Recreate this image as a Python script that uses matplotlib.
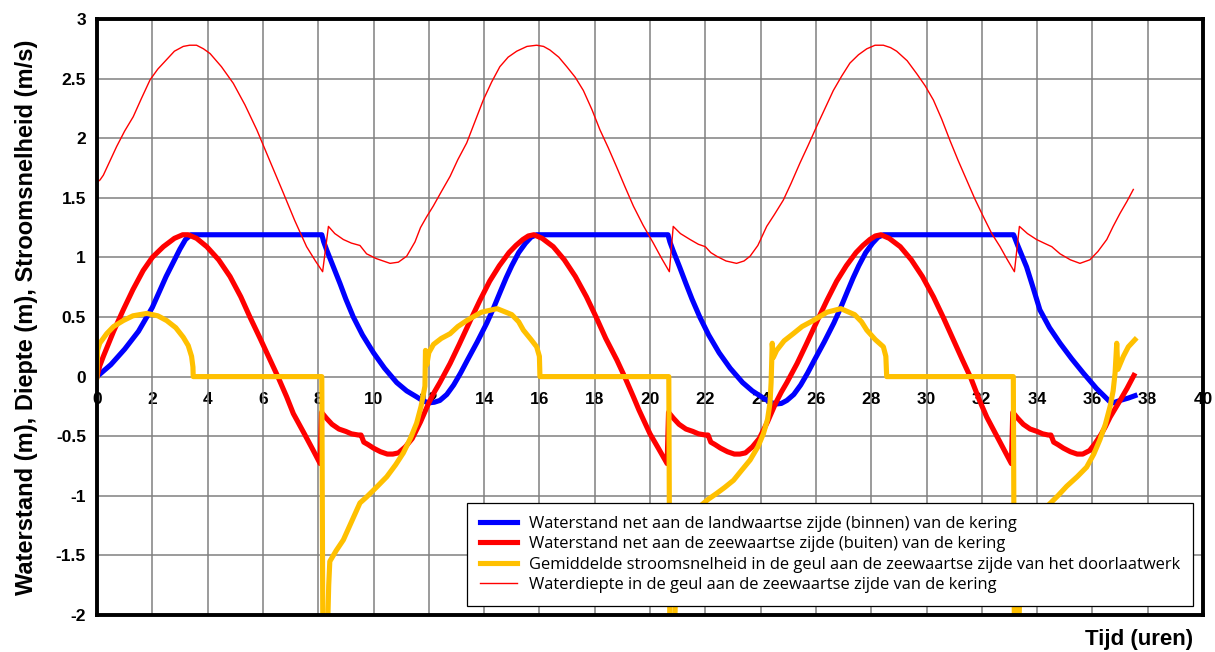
import matplotlib
matplotlib.use("Agg")
import matplotlib.pyplot as plt

# --- Waterstand landwaartse zijde (binnen) ---
t_binnen = [0.0, 0.5, 1.0, 1.5, 2.0, 2.5, 3.0, 3.2, 3.4,
            8.13, 8.2, 8.31, 8.55, 8.79, 9.0, 9.27, 9.6, 10.0, 10.4, 10.84, 11.2,
            11.56, 11.8, 12.0, 12.2, 12.4, 12.65, 12.9, 13.15, 13.4, 13.75, 14.1,
            14.35, 14.6, 14.8, 15.0, 15.25, 15.5, 15.7, 15.9,
            20.65, 20.72, 20.83, 21.07, 21.3, 21.52, 21.8, 22.12, 22.5, 22.9,
            23.35, 23.7, 24.1, 24.35, 24.55, 24.75, 24.95, 25.2, 25.45, 25.7,
            25.95, 26.3, 26.65, 26.9, 27.15, 27.35, 27.55, 27.8, 28.05, 28.25, 28.45,
            33.15, 33.3, 33.62, 33.85, 34.1, 34.45, 34.83, 35.25, 35.67, 36.15,
            36.63, 36.75, 37.0, 37.3, 37.54]
h_binnen = [0.0, 0.10, 0.23, 0.38, 0.58, 0.84, 1.07, 1.15, 1.19,
            1.19, 1.13, 1.06, 0.92, 0.78, 0.65, 0.50, 0.35, 0.20, 0.07, -0.05, -0.12,
            -0.17, -0.205, -0.22, -0.215, -0.20, -0.15, -0.07, 0.03, 0.14, 0.29, 0.45,
            0.58, 0.72, 0.83, 0.93, 1.04, 1.12, 1.17, 1.19,
            1.19, 1.13, 1.06, 0.92, 0.78, 0.65, 0.50, 0.35, 0.20, 0.07,
            -0.05, -0.12, -0.18, -0.215, -0.23, -0.225, -0.20, -0.15, -0.07, 0.03,
            0.14, 0.29, 0.45, 0.58, 0.72, 0.83, 0.93, 1.04, 1.12, 1.17, 1.19,
            1.19, 1.10, 0.92, 0.75, 0.56, 0.41, 0.28, 0.15, 0.03, -0.10,
            -0.21, -0.22, -0.20, -0.18, -0.16]

# --- Waterstand zeewaartse zijde (buiten) ---
t_buiten = [0.0, 0.1, 0.23, 0.6, 0.95, 1.3, 1.67, 2.0, 2.4, 2.8, 3.1, 3.3, 3.6,
            3.97, 4.4, 4.81, 5.2, 5.53, 5.9, 6.26, 6.56, 6.86, 7.1, 7.5, 7.8, 8.07,
            8.12, 8.3, 8.5, 8.75, 9.0, 9.2, 9.45, 9.55, 9.65, 9.8, 10.0, 10.25,
            10.5, 10.7, 10.9, 11.15, 11.4, 11.55, 11.7, 11.85, 12.0,
            12.2, 12.4, 12.77, 13.1, 13.5, 13.85, 14.2, 14.55, 14.9, 15.15, 15.4,
            15.6, 15.8, 16.1, 16.5, 16.9, 17.3, 17.7, 18.05, 18.4, 18.8, 19.1,
            19.4, 19.6, 20.0, 20.3, 20.62,
            20.67, 20.85, 21.05, 21.3, 21.55, 21.75, 22.0, 22.1, 22.2, 22.35, 22.55,
            22.8, 23.05, 23.25, 23.45, 23.7, 23.95, 24.1, 24.25, 24.4, 24.55,
            24.75, 24.95, 25.32, 25.65, 26.05, 26.4, 26.75, 27.1, 27.45, 27.7,
            27.95, 28.15, 28.35, 28.65, 29.05, 29.45, 29.85, 30.25, 30.6, 30.95,
            31.3, 31.6, 31.9, 32.18, 32.5, 32.8, 33.07,
            33.12, 33.3, 33.5, 33.75, 34.0, 34.2, 34.4, 34.5, 34.6, 34.75, 34.95,
            35.2, 35.45, 35.65, 35.9, 36.1, 36.3, 36.47, 36.64, 36.82, 37.0,
            37.25, 37.5]
h_buiten = [0.0, 0.09, 0.17, 0.38, 0.56, 0.73, 0.89, 1.00, 1.09, 1.16, 1.19, 1.19, 1.16,
            1.09, 0.98, 0.84, 0.67, 0.50, 0.32, 0.14, -0.01, -0.17, -0.31, -0.48, -0.61, -0.73,
            -0.30, -0.35, -0.40, -0.44, -0.46, -0.48, -0.49, -0.49, -0.55, -0.57, -0.60, -0.63,
            -0.65, -0.65, -0.64, -0.59, -0.52, -0.45, -0.38, -0.30, -0.22,
            -0.13, -0.05, 0.11, 0.27, 0.47, 0.64, 0.80, 0.93, 1.04, 1.10, 1.15,
            1.18, 1.19, 1.16, 1.09, 0.98, 0.84, 0.67, 0.50, 0.32, 0.14, -0.01,
            -0.17, -0.28, -0.48, -0.60, -0.73,
            -0.30, -0.35, -0.40, -0.44, -0.46, -0.48, -0.49, -0.49, -0.55, -0.57, -0.60,
            -0.63, -0.65, -0.65, -0.64, -0.59, -0.52, -0.45, -0.38, -0.30, -0.22,
            -0.13, -0.05, 0.11, 0.27, 0.47, 0.64, 0.80, 0.93, 1.04, 1.10,
            1.15, 1.18, 1.19, 1.16, 1.09, 0.98, 0.84, 0.67, 0.50, 0.32,
            0.14, -0.01, -0.19, -0.34, -0.48, -0.61, -0.73,
            -0.30, -0.35, -0.40, -0.44, -0.46, -0.48, -0.49, -0.49, -0.55, -0.57, -0.60,
            -0.63, -0.65, -0.65, -0.62, -0.56, -0.49, -0.42, -0.34, -0.27, -0.20,
            -0.10, 0.01]

# --- Gemiddelde stroomsnelheid in de geul ---
t_snelheid = [0.0, 0.02, 0.1, 0.35, 0.6, 0.95, 1.3, 1.8, 2.2, 2.52, 2.85, 3.12, 3.3,
              3.42, 3.47, 3.48, 8.13,
              8.17, 8.32, 8.38, 8.42, 8.65, 8.91, 9.2, 9.51, 9.75, 10.1, 10.48, 10.8,
              11.08, 11.35, 11.56, 11.72, 11.86, 11.88, 11.93, 12.0, 12.17, 12.45,
              12.77, 13.05, 13.37, 13.9, 14.47, 15.0, 15.25, 15.42, 15.7, 15.9, 16.0,
              16.02, 20.68,
              20.72, 20.87, 20.93, 20.97, 21.4, 21.85, 22.1, 22.41, 22.7, 23.02, 23.3,
              23.62, 23.9, 24.1, 24.25, 24.34, 24.38, 24.4, 24.42, 24.46, 24.58,
              24.85, 25.18, 25.5, 25.9, 26.4, 26.9, 27.4, 27.65, 27.84, 28.15, 28.44,
              28.53, 28.56, 33.14,
              33.18, 33.32, 33.38, 33.45, 33.9, 34.4, 34.75, 35.07, 35.45, 35.79,
              36.05, 36.27, 36.47, 36.64, 36.75, 36.82, 36.88, 36.92, 37.12, 37.3,
              37.54]
v_snelheid = [0.0, 0.22, 0.28, 0.36, 0.42, 0.47, 0.51, 0.53, 0.51, 0.47, 0.41, 0.33, 0.26,
              0.17, 0.08, 0.0, 0.0,
              -2.3, -2.3, -1.75, -1.55, -1.46, -1.37, -1.22, -1.06, -1.01, -0.93, -0.84, -0.74,
              -0.64, -0.51, -0.39, -0.25, -0.08, 0.22, 0.10, 0.20, 0.27, 0.32,
              0.36, 0.42, 0.47, 0.54, 0.57, 0.52, 0.46, 0.39, 0.31, 0.25, 0.17,
              0.0, 0.0,
              -2.3, -2.3, -1.75, -1.55, -1.33, -1.08, -1.03, -0.98, -0.93, -0.87, -0.79,
              -0.70, -0.59, -0.48, -0.36, -0.22, -0.05, 0.11, 0.28, 0.16, 0.22,
              0.30, 0.36, 0.42, 0.47, 0.54, 0.57, 0.52, 0.46, 0.39, 0.31, 0.25,
              0.17, 0.0, 0.0,
              -2.3, -2.3, -1.75, -1.55, -1.33, -1.08, -1.00, -0.92, -0.84, -0.76,
              -0.65, -0.53, -0.40, -0.25, -0.12, 0.03, 0.28, 0.06, 0.17, 0.25,
              0.31]

# --- Waterdiepte in de geul ---
t_diepte = [0.0, 0.11, 0.23, 0.45, 0.71, 1.0, 1.31, 1.6, 1.92, 2.2, 2.52, 2.8, 3.12,
            3.35, 3.6, 3.85, 4.09, 4.5, 4.93, 5.35, 5.78, 6.25, 6.74, 7.15, 7.58, 7.9,
            8.16, 8.37, 8.6, 8.91, 9.2, 9.51, 9.75, 10.1, 10.6, 10.9, 11.2, 11.5,
            11.7, 11.92, 12.16, 12.45, 12.77, 13.05, 13.37, 13.67, 13.97, 14.27,
            14.57, 14.87, 15.18, 15.55, 15.9, 16.15, 16.38, 16.7, 16.99, 17.3,
            17.59, 17.9, 18.19, 18.49, 18.79, 19.1, 19.4, 19.75, 20.12, 20.4, 20.7,
            20.84, 21.1, 21.45, 21.75, 22.0, 22.2, 22.41, 22.75, 23.13, 23.4,
            23.62, 23.9, 24.22, 24.5, 24.82, 25.1, 25.42, 25.72, 26.03, 26.33,
            26.63, 26.93, 27.23, 27.54, 27.84, 28.14, 28.44, 28.7, 28.92, 29.3,
            29.65, 29.95, 30.25, 30.55, 30.85, 31.15, 31.45, 31.75, 32.06, 32.36,
            32.66, 32.9, 33.18, 33.36, 33.65, 33.98, 34.25, 34.53, 34.83, 35.2,
            35.55, 35.91, 36.2, 36.52, 36.75, 37.0, 37.25, 37.48]
d_diepte = [1.63, 1.65, 1.69, 1.80, 1.93, 2.06, 2.18, 2.33, 2.49, 2.58, 2.66, 2.73, 2.77,
            2.78, 2.78, 2.75, 2.71, 2.60, 2.46, 2.28, 2.07, 1.81, 1.54, 1.31, 1.09, 0.97,
            0.88, 1.26, 1.20, 1.15, 1.12, 1.10, 1.03, 0.99, 0.95, 0.96, 1.01, 1.13,
            1.25, 1.34, 1.43, 1.55, 1.68, 1.82, 1.96, 2.14, 2.32, 2.47,
            2.60, 2.68, 2.73, 2.77, 2.78, 2.77, 2.74, 2.68, 2.60, 2.51,
            2.40, 2.24, 2.07, 1.92, 1.76, 1.59, 1.43, 1.27, 1.12, 1.00, 0.88,
            1.26, 1.20, 1.15, 1.11, 1.09, 1.04, 1.01, 0.97, 0.95, 0.97,
            1.01, 1.10, 1.26, 1.36, 1.48, 1.62, 1.79, 1.94, 2.10, 2.25,
            2.40, 2.52, 2.63, 2.70, 2.75, 2.78, 2.78, 2.76, 2.73, 2.65,
            2.54, 2.44, 2.32, 2.16, 1.98, 1.81, 1.65, 1.49, 1.34, 1.20,
            1.09, 0.99, 0.88, 1.26, 1.20, 1.15, 1.12, 1.09, 1.03, 0.98,
            0.95, 0.98, 1.05, 1.15, 1.26, 1.37, 1.47, 1.57]

labels = [
    "Waterstand net aan de landwaartse zijde (binnen) van de kering",
    "Waterstand net aan de zeewaartse zijde (buiten) van de kering",
    "Gemiddelde stroomsnelheid in de geul aan de zeewaartse zijde van het doorlaatwerk",
    "Waterdiepte in de geul aan de zeewaartse zijde van de kering",
]
x_ticks = list(range(0, 41, 2))
y_ticks = [-2, -1.5, -1, -0.5, 0, 0.5, 1, 1.5, 2, 2.5, 3]
y_ticklabels = ["-2", "-1.5", "-1", "-0.5", "0", "0.5", "1", "1.5", "2", "2.5", "3"]

bold_font = "Liberation Sans"

fig = plt.figure(figsize=(12.15, 6.52), dpi=100)
ax = fig.add_axes([97 / 1215, 1 - 615 / 652, (1203 - 97) / 1215, (615 - 19) / 652])

ax.plot(t_binnen, h_binnen, color="#0000FF", lw=3.7, label=labels[0])
ax.plot(t_buiten, h_buiten, color="#FF0000", lw=3.7, label=labels[1])
ax.plot(t_snelheid, v_snelheid, color="#FFC000", lw=3.7, label=labels[2])
ax.plot(t_diepte, d_diepte, color="#FF0000", lw=1.0, label=labels[3])

ax.set_xlim(0, 40)
ax.set_ylim(-2, 3)
ax.set_xticks(x_ticks)
ax.set_yticks(y_ticks)
ax.set_yticklabels(y_ticklabels)
ax.tick_params(axis="x", length=0, labelbottom=False)
ax.tick_params(axis="y", length=0, pad=8)
for lab in ax.get_yticklabels():
    lab.set_fontfamily(bold_font)
    lab.set_fontweight("bold")
    lab.set_fontsize(12.5)

ax.grid(True, color="#808080", lw=1.1)
ax.set_axisbelow(True)
for sp in ax.spines.values():
    sp.set_linewidth(2.8)
    sp.set_color("black")

# time labels run along the zero line
sec = ax.secondary_xaxis(0.4)
sec.set_xticks(x_ticks)
sec.set_xticklabels([str(v) for v in x_ticks])
sec.tick_params(length=0, pad=11)
sec.spines["bottom"].set_visible(False)
for lab in sec.get_xticklabels():
    lab.set_fontfamily(bold_font)
    lab.set_fontweight("bold")
    lab.set_fontsize(12.5)

ax.set_ylabel("Waterstand (m), Diepte (m), Stroomsnelheid (m/s)",
              fontfamily=bold_font, fontweight="bold", fontsize=17, labelpad=13)
fig.text(1193 / 1215, 1 - 640 / 652, "Tijd (uren)", ha="right", va="center",
         fontfamily=bold_font, fontweight="bold", fontsize=16)

leg = ax.legend(loc="lower right", bbox_to_anchor=(0.991, 0.015), borderaxespad=0,
                prop={"family": "Open Sans", "size": 11.9}, handlelength=2.2,
                handletextpad=0.72, labelspacing=0.26, borderpad=0.8,
                fancybox=False, framealpha=1, edgecolor="black")
leg.get_frame().set_linewidth(0.9)

fig.savefig("out.png", dpi=100)
